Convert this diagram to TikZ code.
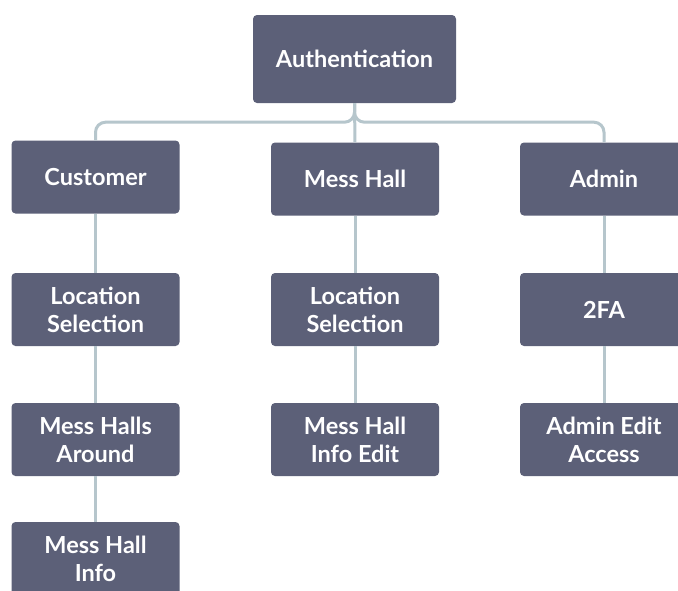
\documentclass[tikz,border=0pt]{standalone}
\usepackage{fontspec}
\setmainfont{Lato}
\usetikzlibrary{calc}
\definecolor{boxfill}{HTML}{5C6078}
\definecolor{linkgray}{HTML}{B6C6CC}
\tikzset{
    box/.style={rounded corners=4pt, fill=boxfill, text=white, align=center,
        font=\bfseries\fontsize{23.5}{28}\selectfont,
        minimum width=168pt, minimum height=73pt, inner sep=0pt},
    link/.style={draw=linkgray, line width=3pt},
}

\begin{document}
\begin{tikzpicture}[x=1pt, y=-1pt]
    \newcommand\posCust{95.5}
    \newcommand\posMess{355}
    \newcommand\posAdmin{604}
    \newcommand\rowOne{179}
    \newcommand\rowTwo{309.5}
    \newcommand\rowThree{439.5}
    \newcommand\rowFour{558.5}

    \useasboundingbox[fill=white] (0, 0) rectangle (678, 590);

    \node[box, minimum width=203pt, minimum height=88pt] (auth) at (354.5, 59){Authentication};

    \node[box] (cust) at (\posCust, 177){Customer};
    \node[box] (mess) at (\posMess, \rowOne){Mess Hall};
    \node[box] (admin) at (\posAdmin, \rowOne){Admin};

    \node[box] (custloc) at (\posCust, \rowTwo){Location\\Selection};
    \node[box] (messloc) at (\posMess, \rowTwo){Location\\Selection};
    \node[box] (twofa) at (\posAdmin, \rowTwo){2FA};

    \node[box] (around) at (\posCust, \rowThree){Mess Halls\\Around};
    \node[box] (edit) at (\posMess, \rowThree){Mess Hall\\Info Edit};
    \node[box] (access) at (\posAdmin, \rowThree){Admin Edit\\Access};

    \node[box] (info) at (\posCust, \rowFour){Mess Hall\\Info};

    % branches from the top box
    \draw[link, rounded corners=10pt] (auth.south) -- ++(0, 19) -| (cust.north);
    \draw[link, rounded corners=10pt] (auth.south) -- ++(0, 19) -| (admin.north);
    \draw[link] (auth.south) -- (mess.north);

    % columns
    \draw[link] (cust.south) -- (custloc.north);
    \draw[link] (custloc.south) -- (around.north);
    \draw[link] (around.south) -- (info.north);
    \draw[link] (mess.south) -- (messloc.north);
    \draw[link] (messloc.south) -- (edit.north);
    \draw[link] (admin.south) -- (twofa.north);
    \draw[link] (twofa.south) -- (access.north);
\end{tikzpicture}
\end{document}
